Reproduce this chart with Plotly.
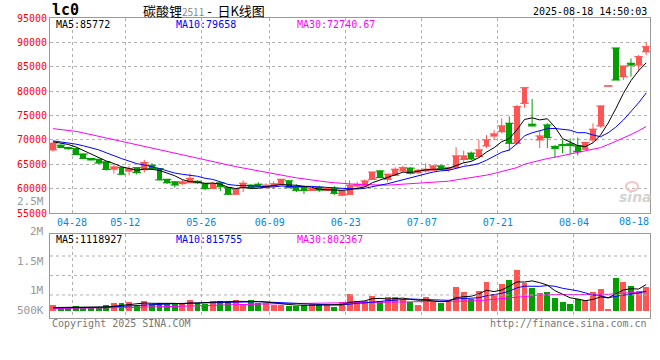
import pandas as pd
import plotly.graph_objects as go

# ---------------- data ----------------
dates = ["04-24", "04-25", "04-28", "04-29", "04-30",
         "05-06", "05-07", "05-08", "05-09", "05-12", "05-13", "05-14", "05-15", "05-16",
         "05-19", "05-20", "05-21", "05-22", "05-23", "05-26", "05-27", "05-28", "05-29", "05-30",
         "06-03", "06-04", "06-05", "06-06", "06-09", "06-10", "06-11", "06-12", "06-13",
         "06-16", "06-17", "06-18", "06-19", "06-20", "06-23", "06-24", "06-25", "06-26", "06-27", "06-30",
         "07-01", "07-02", "07-03", "07-04", "07-07", "07-08", "07-09", "07-10", "07-11",
         "07-14", "07-15", "07-16", "07-17", "07-18", "07-21", "07-22", "07-23", "07-24", "07-25",
         "07-28", "07-29", "07-30", "07-31", "08-01", "08-04", "08-05", "08-06", "08-07", "08-08",
         "08-11", "08-12", "08-13", "08-14", "08-15", "08-18"]

open_ = [67950, 68900, 68400, 68200, 67100, 66150, 66000, 65500, 64000, 64300,
         63600, 64300, 63900, 64800, 64100, 61900, 61400, 61050, 61250, 61500,
         61000, 60050, 61200, 60200, 58850, 60200, 60700, 60900, 60200, 60550,
         60900, 61600, 60350, 60350, 59650, 60300, 59700, 60000, 58650, 58830,
         60550, 60550, 61900, 63630, 61900, 62740, 63630, 64200, 63300, 63630,
         63770, 64660, 63970, 64320, 66000, 67270, 66590, 68770, 70800, 71700,
         73400, 69300, 77500, 73200, 70000, 73070, 68630, 69000, 69180, 68770,
         68090, 70000, 72870, 81060, 88840, 82970, 85700, 85360, 88090]
high = [69600, 69100, 68600, 68300, 67200, 66300, 66100, 65600, 65000, 64400,
        64650, 64400, 65900, 65200, 64200, 62000, 61500, 61800, 63100, 61700,
        61100, 61400, 61300, 60300, 60000, 61700, 60900, 61300, 61100, 61500,
        62000, 61700, 60900, 60400, 60100, 60600, 60100, 60500, 59700, 61700,
        61400, 61900, 63400, 63800, 62950, 64400, 64700, 64400, 64000, 65200,
        64900, 64800, 64500, 68500, 67800, 67600, 70000, 71000, 72000, 74440,
        74800, 77170, 80700, 78400, 71850, 73400, 68980, 70000, 70300, 70500,
        69650, 73400, 76960, 81060, 88840, 85150, 86720, 87410, 90000]
low = [67600, 68300, 68000, 66900, 66100, 65800, 65100, 63700, 63100, 62800,
       62750, 62900, 63300, 63800, 61700, 61000, 60200, 60650, 61100, 61000,
       59700, 59900, 59500, 58700, 58700, 59300, 59900, 60200, 60100, 59900,
       60800, 60100, 59300, 58900, 59500, 59300, 59600, 58700, 58400, 58800,
       60200, 60400, 61800, 62200, 61300, 62600, 63500, 62900, 63000, 63300,
       63600, 63900, 63500, 64200, 65300, 65800, 66300, 68300, 70000, 71300,
       67800, 68980, 76600, 72800, 68300, 68300, 66250, 67270, 67000, 66800,
       67900, 69500, 72500, 81060, 82290, 82290, 82970, 84000, 87400]
close = [69300, 68500, 68200, 67000, 66200, 65900, 65250, 63950, 64450, 62950,
         64100, 63300, 65350, 64100, 61800, 61200, 60750, 61400, 62100, 61200,
         60000, 61000, 60400, 58850, 59860, 61100, 60150, 60350, 60700, 61000,
         61900, 60200, 59650, 59650, 60000, 59700, 60000, 59040, 59520, 60700,
         60900, 61580, 63400, 62260, 62950, 63970, 64300, 63150, 63770, 63970,
         64660, 64110, 64320, 66710, 66700, 66100, 67950, 70000, 71230, 72870,
         69300, 76830, 80700, 72870, 70800, 70480, 68300, 68900, 68840, 67610,
         69450, 72180, 76960, 81060, 82290, 85150, 85360, 87070, 89110]
volume = [263000, 128000, 128000, 222000, 155000, 155000, 128000, 263000, 357000, 330000,
          384000, 222000, 424000, 290000, 343000, 290000, 290000, 330000, 465000, 343000,
          316000, 424000, 424000, 424000, 465000, 316000, 465000, 330000, 330000, 263000,
          263000, 222000, 222000, 263000, 290000, 290000, 263000, 195000, 384000, 721000,
          424000, 424000, 640000, 438000, 586000, 586000, 451000, 397000, 263000, 586000,
          384000, 357000, 465000, 990000, 788000, 491000, 828000, 1192000, 721000, 1111000,
          1273000, 1677000, 1165000, 963000, 747000, 788000, 545000, 384000, 303000, 491000,
          465000, 788000, 909000, 101000, 1366000, 1192000, 1030000, 842000, 1003000]

# closes / volumes of the 29 sessions before the window (estimated from the MA lines)
prior_close = [73200, 73600, 73800, 76000, 76200, 75800, 75600, 75400, 75000, 74600,
               74000, 73600, 73200, 72800, 72400, 72000, 71600, 71200, 70800, 70500,
               70400, 70200, 69800, 69700, 69900, 69500, 69900, 69600, 69700]
prior_volume = [90000, 95000, 100000, 85000, 110000, 105000, 98000, 102000, 115000, 92000,
                108000, 120000, 96000, 104000, 112000, 118000, 100000, 110000, 115000, 125000,
                140000, 135000, 138000, 150000, 137000, 130000, 140000, 127000, 140000]

tick_dates = ["04-28", "05-12", "05-26", "06-09", "06-23", "07-07", "07-21", "08-04"]
last_date_label = "08-18"
price_ticks = [55000, 60000, 65000, 70000, 75000, 80000, 85000, 90000, 95000]
vol_labels = ["2.5M", "2M", "1.5M", "1M", "500K"]
price_ma_text = ["MA5:85772", "MA10:79658", "MA30:72740.67"]
vol_ma_text = ["MA5:1118927", "MA10:815755", "MA30:802367"]

# ---------------- helpers ----------------
W, H = 660, 360
ML, MR, MT, MB = 50, 10, 18, 42
PW, PH = W - ML - MR, H - MT - MB


def px(xp):
    return (xp - ML) / PW


def py(yp):
    return (H - MB - yp) / PH


MONO = "DejaVu Sans Mono"
RED = "#ff5555"
GREEN = "#00a000"
MA_COLORS = {5: "#000000", 10: "#0000ff", 30: "#ff00ff"}

n = len(close)
x = list(range(n))
up = [c >= o for o, c in zip(open_, close)]
colors = [RED if u else GREEN for u in up]

cs = pd.Series(prior_close + close, dtype=float)
vs = pd.Series(prior_volume + volume, dtype=float)
k = len(prior_close)
ma_p = {w: cs.rolling(w).mean().iloc[k:].tolist() for w in (5, 10, 30)}
ma_v = {w: vs.rolling(w).mean().iloc[k:].tolist() for w in (5, 10, 30)}

fig = go.Figure()

# wicks
for col, flag in ((RED, True), (GREEN, False)):
    wx, wy = [], []
    for i in x:
        if up[i] == flag:
            wx += [i, i, None]
            wy += [low[i], high[i], None]
    fig.add_trace(go.Scatter(x=wx, y=wy, mode="lines", line=dict(color=col, width=1),
                             hoverinfo="skip", xaxis="x", yaxis="y"))

# bodies
fig.add_trace(go.Bar(x=x, y=[abs(c - o) for o, c in zip(open_, close)],
                     base=[min(o, c) for o, c in zip(open_, close)],
                     marker=dict(color=colors, line=dict(width=0)), width=0.78,
                     xaxis="x", yaxis="y"))
# open / close ticks (make flat candles visible)
fig.add_trace(go.Scatter(x=x + x, y=open_ + close, mode="markers",
                         marker=dict(symbol="line-ew", size=6,
                                     line=dict(color=colors + colors, width=1.2)),
                         hoverinfo="skip", xaxis="x", yaxis="y"))

for w in (30, 10, 5):
    fig.add_trace(go.Scatter(x=x, y=ma_p[w], mode="lines",
                             line=dict(color=MA_COLORS[w], width=1),
                             xaxis="x", yaxis="y"))

# volume
fig.add_trace(go.Bar(x=x, y=volume, marker=dict(color=colors, line=dict(width=0)),
                     width=0.78, xaxis="x2", yaxis="y2"))
for w in (30, 10, 5):
    fig.add_trace(go.Scatter(x=x, y=ma_v[w], mode="lines",
                             line=dict(color=MA_COLORS[w], width=1),
                             xaxis="x2", yaxis="y2"))

tickvals = [dates.index(d) + 0.5 for d in tick_dates]
axis_common = dict(showline=True, mirror=True, linecolor="#9a9a9a", linewidth=1,
                   zeroline=False, ticks="", gridcolor="#b0b0b0", griddash="dot",
                   gridwidth=1, automargin=False)

fig.update_layout(
    template="none", width=W, height=H,
    margin=dict(l=ML, r=MR, t=MT, b=MB),
    paper_bgcolor="white", plot_bgcolor="white", showlegend=False,
    barmode="overlay", bargap=0, hovermode=False,
    xaxis=dict(domain=[0, 1], range=[-0.4, 78.5], anchor="y", tickmode="array",
               tickvals=tickvals, ticktext=tick_dates, showgrid=True,
               tickfont=dict(family=MONO, size=10, color="#0a86d8"), **axis_common),
    yaxis=dict(domain=[0.35, 1], range=[55000, 95000], anchor="x", tickmode="array",
               tickvals=price_ticks, ticktext=[str(v) for v in price_ticks], showgrid=True,
               tickfont=dict(family=MONO, size=10, color="#ff0000"), **axis_common),
    xaxis2=dict(domain=[0, 1], range=[-0.4, 78.5], anchor="y2", matches="x",
                tickmode="array", tickvals=tickvals, showticklabels=False, showgrid=True,
                **axis_common),
    yaxis2=dict(domain=[0, 0.28], range=[-263000, 3131000], anchor="x2",
                showticklabels=False, showgrid=False, **axis_common),
)

# volume grid lines (dotted, as drawn by the source chart)
for fy in (0.738, 0.505, 0.274):
    fig.add_shape(type="line", xref="x2 domain", yref="y2 domain", x0=0, x1=1, y0=fy, y1=fy,
                  line=dict(color="#b0b0b0", width=1, dash="dot"))

ann = []


def text(s, xp, yp, color="#000", size=10, anchor="left", family=MONO):
    ann.append(dict(text=s, x=px(xp), y=py(yp), xref="paper", yref="paper",
                    xanchor=anchor, yanchor="middle", showarrow=False,
                    font=dict(family=family, size=size, color=color)))


text("<b>lc0</b>", 50, 10, size=15)
text("碳酸锂<span style='font-size:10px;color:#888'>2511</span> -  日K线图", 141, 10,
     size=13, family="Noto Sans CJK SC")
text("2025-08-18 14:50:03", 649, 12, anchor="right")
for s, xp, c in zip(price_ma_text, (54, 174, 295), ("#000", "#0000ff", "#ff00ff")):
    text(s, xp, 24, color=c)
for s, xp, c in zip(vol_ma_text, (54, 174, 295), ("#000", "#0000ff", "#ff00ff")):
    text(s, xp, 239, color=c)
for s, yp in zip(vol_labels, (201, 231, 261, 290, 310)):
    text(s, 46, yp, color="#999", anchor="right", size=11)
text(last_date_label, 634, 222, color="#0a86d8", anchor="center")
text("Copyright 2025 SINA.COM", 50, 323, color="#777")
text("http://finance.sina.com.cn", 649, 323, color="#777", anchor="right")
text("<b><i>sina</i></b>", 635, 197, color="#d4d4d4", size=14, anchor="center",
     family="DejaVu Sans")
fig.add_shape(type="circle", xref="paper", yref="paper",
              x0=px(626), x1=px(638), y0=py(191), y1=py(182),
              line=dict(color="#f2c4c4", width=2))

fig.update_layout(annotations=ann)
fig.write_html("out.html", config={"displayModeBar": False},
               post_script="document.body.style.margin='0';")
